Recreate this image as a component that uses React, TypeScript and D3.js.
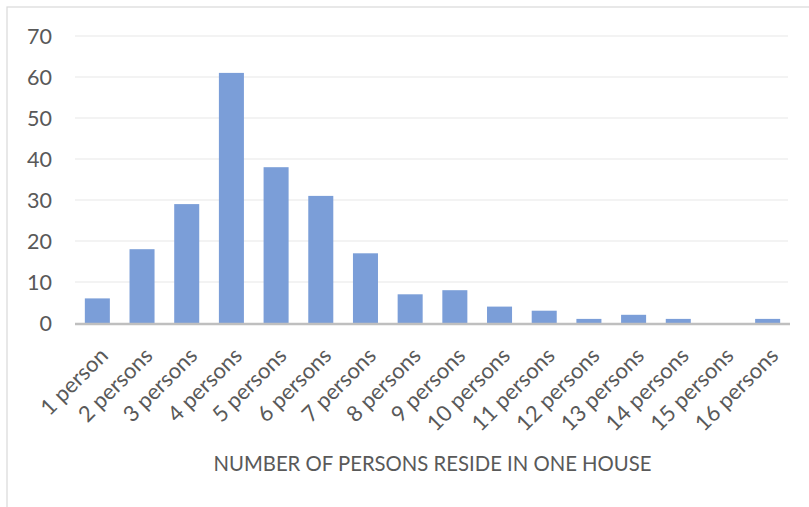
import React from "react";
import * as d3 from "d3";

const categories = ["1 person","2 persons","3 persons","4 persons","5 persons","6 persons","7 persons","8 persons","9 persons","10 persons","11 persons","12 persons","13 persons","14 persons","15 persons","16 persons"];
const counts = [6, 18, 29, 61, 38, 31, 17, 7, 8, 4, 3, 1, 2, 1, 0, 1];
const yTicks = [0, 10, 20, 30, 40, 50, 60, 70];
const xTitle = "NUMBER OF PERSONS RESIDE IN ONE HOUSE";

export default function App() {
  const W = 809, H = 507;
  const left = 75, right = 790, top = 36, bottom = 323;
  const x = d3.scaleBand().domain(categories).range([left, right]).paddingInner(0.44).paddingOuter(0.22);
  const y = d3.scaleLinear().domain([0, 70]).range([bottom, top]);
  const font = "Lato, 'Open Sans', sans-serif";
  return (
    <svg width={W} height={H} style={{ position: "absolute", left: 0, top: 0 }}>
      <rect x={0} y={0} width={W} height={H} fill="#fff" />
      <rect x={7} y={7} width={W + 10} height={H + 10} fill="none" stroke="#d9d9d9" strokeWidth={1.2} />
      {yTicks.map(t => (
        <g key={t}>
          {t > 0 && <line x1={left} x2={right - 2} y1={y(t)} y2={y(t)} stroke="#e8e8e8" strokeWidth={1.2} />}
          <text x={52} y={y(t)} dy="0.36em" textAnchor="end" fontFamily={font} fontSize={21.5} fill="#595959">{t}</text>
        </g>
      ))}
      {categories.map((c, i) => (
        <rect key={c} x={x(c)!} y={y(counts[i])} width={x.bandwidth()} height={y(0) - y(counts[i])} fill="#7b9ed8" />
      ))}
      <line x1={left} x2={right} y1={y(0) + 1} y2={y(0) + 1} stroke="#bfbfbf" strokeWidth={2.5} />
      {categories.map(c => {
        const cx = x(c)! + x.bandwidth() / 2 + 12;
        const cy = 357;
        return (
          <text key={c} x={cx} y={cy} transform={`rotate(-45 ${cx} ${cy})`} textAnchor="end" fontFamily={font} fontSize={22} fill="#595959">{c}</text>
        );
      })}
      <text x={(left + right) / 2} y={471} textAnchor="middle" fontFamily={font} fontSize={21} textLength={438} lengthAdjust="spacingAndGlyphs" fill="#595959">{xTitle}</text>
    </svg>
  );
}
